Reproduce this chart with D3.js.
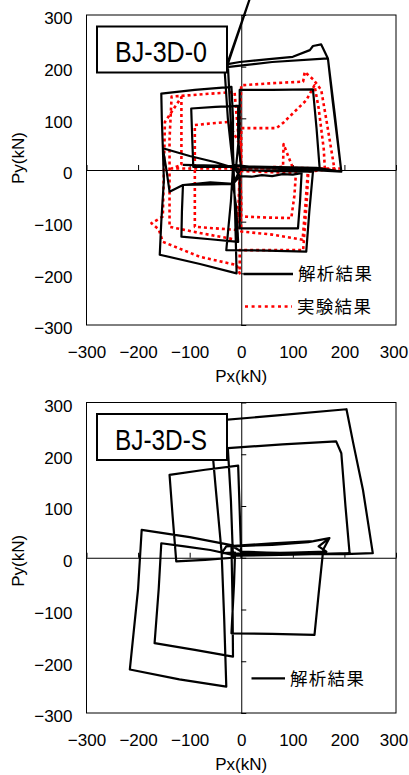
<!DOCTYPE html>
<html><head><meta charset="utf-8">
<script src="https://cdn.jsdelivr.net/npm/d3@7"></script>
<style>body{margin:0;background:#fff}</style>
</head><body>
<svg id="chart" width="409" height="775"></svg>
<script>
// Axis ticks (kN) shared by both panels
const ticks = [-300, -200, -100, 0, 100, 200, 300];
const titles = ["BJ-3D-0", "BJ-3D-S"];
const legendAnalysis = "解析結果";
const legendTest = "実験結果";
const xLabel = "Px(kN)";
const yLabel = "Py(kN)";

// BJ-3D-0: analysis trajectory [Px, Py] in kN
const analysis0 = [
  [0,0],
  [-6,60],[-6,124],[-50,122],[-97,119],[-95,60],[-93,6],[-50,6],[-10,6],
  [-3,80],[-3,155],[60,155],[139,156],[146,80],[152,3],[80,4],[0,5],
  [-16,-27],[-60,-28],[-113,-29],[-115,-80],[-116,-129],[-60,-134],[-6,-139],[-10,-70],[-16,-27],
  [-3,-12],[20,-13],[40,-10],[60,-12],[80,-8],[100,-9],[117,-6],[114,-60],[110,-113],[50,-113],[-3,-113],[-3,-60],[-3,-12],
  [-16,8],[-26,100],[-32,190],[-30,197],[16,330],[-28,199],[60,209],[168,216],[177,135],[194,-3],[150,-1],[100,1],[50,3],[-16,10],
  [-16,100],[-19,161],[-90,155],[-155,148],[-154,100],[-152,42],[-150,-20],[-155,-100],[-158,-164],[-80,-182],[-9,-200],[-12,-80],[-16,40],[-16,6],
  [-20,-60],[-29,-155],[50,-156],[126,-158],[132,-80],[139,-3],[60,-2],[0,0],
  [-50,15],[-100,27],[-152,42],[-145,0],[-139,-42],[-113,-29],[-60,-24],[-16,-27],[-3,-12],
  [-16,8],[-26,205],[-3,209],[49,214],[100,219],[133,232],[139,240],[155,243],[168,216],[181,110],[194,-3],[146,4],[50,6],[-113,10]
];

// BJ-3D-0: test trajectory [Px, Py] in kN
const experiment0 = [
  [0,0],[0,40],[0,81],[35,81],[68,81],[81,91],[126,135],[142,164],[150,120],[160,40],[162,3],[100,4],[82,50],[81,6],[40,5],[0,4],
  [-3,50],[-26,93],[-60,90],[-90,87],[-90,0],[-90,-60],[-90,-110],[-50,-113],[-9,-116],[-5,-60],[-3,-5],
  [0,-50],[0,-90],[50,-92],[97,-93],[103,-50],[106,-6],[50,-4],[0,-2],
  [-3,80],[0,164],[60,168],[120,171],[123,190],[140,175],[155,155],[165,97],[181,0],[100,3],[0,3],
  [-13,151],[-70,147],[-135,142],[-139,60],[-139,-3],[-139,-110],[-80,-122],[-9,-135],[-3,-60],[-3,0],
  [0,-119],[60,-125],[119,-135],[125,-60],[129,-3],[191,3],[100,3],[-135,3],
  [-116,10],[-116,141],[-148,93],[-150,-3],[-152,-90],[-174,-103],[-160,-115],[-152,-139],[-80,-168],[-9,-184],[-3,-200],
  [-3,-155],[60,-155],[120,-155],[127,-60],[130,-5]
];

// BJ-3D-S: analysis trajectory [Px, Py] in kN
const analysisS = [
  [0,0],[-3,90],[-6,178],[-70,170],[-139,160],[-133,80],[-126,-7],[-70,-4],[-16,0],
  [-20,110],[-26,212],[80,219],[184,225],[194,202],[202,100],[210,9],[100,6],[-10,4],
  [-60,15],[-110,22],[-155,28],[-160,-60],[-168,-165],[-90,-178],[-16,-191],[-17,-80],[-19,22],
  [60,25],[130,30],[171,38],[159,16],[150,-70],[142,-149],[60,-147],[-19,-146],[-14,-50],[-12,10],
  [-38,9],[-50,140],[-61,264],[70,275],[204,287],[217,222],[236,131],[255,9],[200,7],[100,8],[0,12],
  [-22,25],[-100,40],[-193,54],[-200,-60],[-216,-216],[-120,-235],[-29,-249],[-33,-120],[-38,9],
  [-29,22],[60,28],[140,32],[171,38],[150,22],[165,12],[100,10],[-10,8]
];

const svg = d3.select("#chart");
const numFont = "'Liberation Sans', Arial, sans-serif";
const jpFont = "'Noto Sans CJK JP', sans-serif";

function panel(opt) {
  const x = d3.scaleLinear().domain([-300, 300]).range([86.5, 396]);
  const y = d3.scaleLinear().domain([-300, 300]).range([opt.bottom, opt.top]);
  const g = svg.append("g");

  // plot frame
  g.append("rect")
    .attr("x", x(-300)).attr("y", y(300))
    .attr("width", x(300) - x(-300)).attr("height", y(-300) - y(300))
    .attr("fill", "none").attr("stroke", "#000").attr("stroke-width", 1);

  // axes through the origin with short inward ticks
  const ax = g.append("g").attr("transform", `translate(0,${y(0)})`)
    .call(d3.axisTop(x).tickValues(ticks).tickSize(5).tickSizeOuter(0).tickFormat(""));
  const ay = g.append("g").attr("transform", `translate(${x(0)},0)`)
    .call(d3.axisRight(y).tickValues(ticks).tickSize(5).tickSizeOuter(0).tickFormat(""));
  [ax, ay].forEach(a => a.selectAll("path,line").attr("stroke", "#000").attr("stroke-width", 1));

  // tick labels on the frame edges
  const lx = g.append("g").attr("transform", `translate(0,${y(-300)})`)
    .call(d3.axisBottom(x).tickValues(ticks).tickSize(0).tickPadding(21));
  const ly = g.append("g").attr("transform", `translate(${x(-300)},0)`)
    .call(d3.axisLeft(y).tickValues(ticks).tickSize(0).tickPadding(14));
  [lx, ly].forEach(a => {
    a.select(".domain").remove();
    a.selectAll("text").attr("font-family", numFont).attr("font-size", 17).attr("fill", "#000");
  });
  ly.selectAll("text").attr("dy", "0.52em");
  // keep the last x label inside the page
  lx.selectAll(".tick").filter(d => d === 300).select("text").attr("x", -2.5);

  g.append("text").attr("x", x(0)).attr("y", y(-300) + 57)
    .attr("text-anchor", "middle").attr("font-family", numFont).attr("font-size", 17)
    .text(xLabel);
  g.append("text")
    .attr("transform", `translate(24,${y(0) + opt.yLabelShift}) rotate(-90)`)
    .attr("text-anchor", "middle").attr("font-family", numFont).attr("font-size", 17)
    .text(yLabel);

  // hysteresis curves
  const line = d3.line().x(d => x(d[0])).y(d => y(d[1]));
  opt.series.forEach(s => {
    g.append("path").datum(s.data).attr("d", line)
      .attr("fill", "none").attr("stroke", s.color).attr("stroke-width", s.width)
      .attr("stroke-dasharray", s.dash || null)
      .attr("stroke-linejoin", "round");
  });

  // specimen name box
  const bx = 97, by = y(300) + 11.5;
  g.append("rect").attr("x", bx).attr("y", by).attr("width", 130).attr("height", 46)
    .attr("fill", "#fff").attr("stroke", "#000").attr("stroke-width", 2);
  g.append("text").attr("x", 115).attr("y", by + 35.5)
    .attr("font-family", numFont).attr("font-size", 29)
    .attr("textLength", 92).attr("lengthAdjust", "spacingAndGlyphs")
    .text(opt.title);

  // legend
  opt.legend.forEach(l => {
    g.append("line").attr("x1", l.x1).attr("x2", l.x2).attr("y1", l.y).attr("y2", l.y)
      .attr("stroke", l.color).attr("stroke-width", l.width).attr("stroke-dasharray", l.dash || null);
    g.append("text").attr("x", l.x2 + 5).attr("y", l.y).attr("dy", "0.36em")
      .attr("font-family", jpFont).attr("font-size", 17.5).attr("letter-spacing", 1.3)
      .text(l.label);
  });
}

panel({
  top: 15, bottom: 325, title: titles[0], yLabelShift: -12,
  series: [
    { data: experiment0, color: "#ff0000", width: 2.6, dash: "3,3" },
    { data: analysis0, color: "#000", width: 2.2 }
  ],
  legend: [
    { x1: 243.5, x2: 293, y: 274, color: "#000", width: 2.3, label: legendAnalysis },
    { x1: 245, x2: 292, y: 306.5, color: "#ff0000", width: 2.6, dash: "3,3.6", label: legendTest }
  ]
});

panel({
  top: 402.5, bottom: 713, title: titles[1], yLabelShift: 3,
  series: [
    { data: analysisS, color: "#000", width: 2.2 }
  ],
  legend: [
    { x1: 251.5, x2: 285, y: 678.3, color: "#000", width: 2.3, label: legendAnalysis }
  ]
});
</script>
</body></html>
